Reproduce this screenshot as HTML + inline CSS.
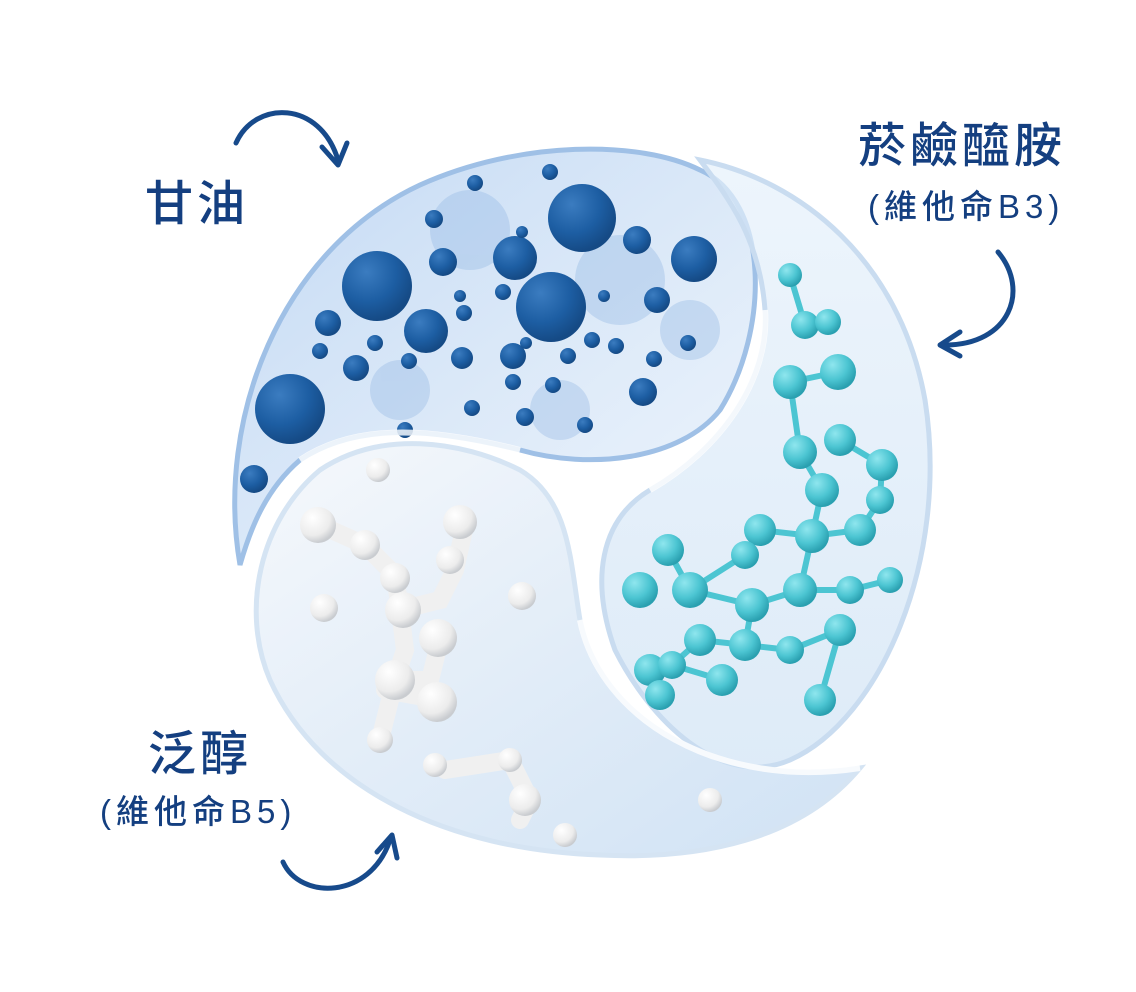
<!DOCTYPE html>
<html><head><meta charset="utf-8"><style>
html,body{margin:0;padding:0;background:#fff;}
svg{display:block}
text{font-family:"Liberation Sans","Noto Sans CJK TC",sans-serif;fill:#143f80;font-weight:500;}
</style></head><body>
<svg width="1136" height="992" viewBox="0 0 1136 992" xmlns="http://www.w3.org/2000/svg">
<defs>
<radialGradient id="bl" cx="0.35" cy="0.3" r="0.7"><stop offset="0" stop-color="#3b7cc0"/><stop offset="0.6" stop-color="#1d5ea3"/><stop offset="1" stop-color="#154a85"/></radialGradient>
<radialGradient id="cy" cx="0.35" cy="0.3" r="0.7"><stop offset="0" stop-color="#8fe6ee"/><stop offset="0.6" stop-color="#4cc5d2"/><stop offset="1" stop-color="#2aa0b0"/></radialGradient>
<radialGradient id="wh" cx="0.35" cy="0.3" r="0.7"><stop offset="0" stop-color="#ffffff"/><stop offset="0.7" stop-color="#ececec"/><stop offset="1" stop-color="#c9ccd0"/></radialGradient>
<linearGradient id="lb" x1="0" y1="0" x2="1" y2="1"><stop offset="0" stop-color="#a9c9ef" stop-opacity="0.7"/><stop offset="1" stop-color="#dbe9f8" stop-opacity="0.5"/></linearGradient>
<linearGradient id="lc" x1="0" y1="0" x2="0" y2="1"><stop offset="0" stop-color="#e6f1fb" stop-opacity="0.7"/><stop offset="1" stop-color="#c8def3" stop-opacity="0.6"/></linearGradient>
<linearGradient id="lw" x1="0" y1="0" x2="1" y2="1"><stop offset="0" stop-color="#f4f7fb" stop-opacity="0.8"/><stop offset="1" stop-color="#bcd6f0" stop-opacity="0.7"/></linearGradient>
</defs>
<path d="M240,565 C215,420 280,250 420,185 C520,140 640,140 700,170 C770,200 770,330 720,410 C680,460 590,470 520,450 C440,430 360,420 300,460 C265,490 250,530 240,565 Z" fill="url(#lb)" stroke="#9fc0e6" stroke-width="5"/>
<g fill="#8fb5e3" opacity="0.35">
<circle cx="470" cy="230" r="40"/><circle cx="620" cy="280" r="45"/><circle cx="400" cy="390" r="30"/><circle cx="560" cy="410" r="30"/><circle cx="690" cy="330" r="30"/>
</g>
<path d="M700,160 C800,180 900,260 925,400 C950,560 880,720 790,760 C720,790 650,720 615,650 C590,580 600,520 650,490 C720,450 770,380 765,310 C760,240 730,200 700,160 Z" fill="url(#lc)" stroke="#c9dcf0" stroke-width="5"/>
<path d="M860,768 C800,840 700,860 600,855 C450,850 320,790 270,680 C240,610 260,520 320,470 C380,430 460,440 520,470 C570,500 570,560 580,620 C600,720 720,790 860,768 Z" fill="url(#lw)" stroke="#d5e4f3" stroke-width="5"/>
<g fill="url(#bl)">
<circle cx="582" cy="218" r="34"/><circle cx="377" cy="286" r="35"/><circle cx="551" cy="307" r="35"/>
<circle cx="290" cy="409" r="35"/><circle cx="515" cy="258" r="22"/><circle cx="694" cy="259" r="23"/>
<circle cx="426" cy="331" r="22"/><circle cx="637" cy="240" r="14"/><circle cx="443" cy="262" r="14"/>
<circle cx="328" cy="323" r="13"/><circle cx="356" cy="368" r="13"/><circle cx="513" cy="356" r="13"/>
<circle cx="462" cy="358" r="11"/><circle cx="657" cy="300" r="13"/><circle cx="643" cy="392" r="14"/>
<circle cx="616" cy="346" r="8"/><circle cx="654" cy="359" r="8"/><circle cx="688" cy="343" r="8"/>
<circle cx="592" cy="340" r="8"/><circle cx="568" cy="356" r="8"/><circle cx="513" cy="382" r="8"/>
<circle cx="553" cy="385" r="8"/><circle cx="464" cy="313" r="8"/><circle cx="503" cy="292" r="8"/>
<circle cx="550" cy="172" r="8"/><circle cx="475" cy="183" r="8"/><circle cx="434" cy="219" r="9"/>
<circle cx="375" cy="343" r="8"/><circle cx="409" cy="361" r="8"/><circle cx="405" cy="430" r="8"/>
<circle cx="320" cy="351" r="8"/><circle cx="460" cy="296" r="6"/><circle cx="585" cy="425" r="8"/>
<circle cx="526" cy="343" r="6"/><circle cx="525" cy="417" r="9"/><circle cx="254" cy="479" r="14"/>
<circle cx="522" cy="232" r="6"/><circle cx="472" cy="408" r="8"/><circle cx="604" cy="296" r="6"/>
</g>
<g stroke="#4cc5d2" stroke-width="6" fill="none">
<path d="M790,275 L805,325 L828,322 M790,382 L838,372 M790,382 L800,452 M840,440 L882,465 L880,500 M800,452 L822,490 L812,536 L760,530 L745,555 L690,590 M812,536 L860,530 L880,500 M812,536 L800,590 L752,605 L690,590 L668,550 M800,590 L850,590 L890,580 M752,605 L745,645 L700,640 L672,665 L650,670 M745,645 L790,650 L840,630 L820,700 M672,665 L722,680"/>
</g>
<g fill="url(#cy)">
<circle cx="790" cy="275" r="12"/><circle cx="805" cy="325" r="14"/><circle cx="828" cy="322" r="13"/>
<circle cx="790" cy="382" r="17"/><circle cx="838" cy="372" r="18"/><circle cx="800" cy="452" r="17"/>
<circle cx="840" cy="440" r="16"/><circle cx="882" cy="465" r="16"/><circle cx="880" cy="500" r="14"/>
<circle cx="822" cy="490" r="17"/><circle cx="812" cy="536" r="17"/><circle cx="860" cy="530" r="16"/>
<circle cx="760" cy="530" r="16"/><circle cx="745" cy="555" r="14"/><circle cx="690" cy="590" r="18"/>
<circle cx="668" cy="550" r="16"/><circle cx="800" cy="590" r="17"/><circle cx="850" cy="590" r="14"/>
<circle cx="890" cy="580" r="13"/><circle cx="752" cy="605" r="17"/><circle cx="745" cy="645" r="16"/>
<circle cx="700" cy="640" r="16"/><circle cx="650" cy="670" r="16"/><circle cx="672" cy="665" r="14"/>
<circle cx="790" cy="650" r="14"/><circle cx="840" cy="630" r="16"/><circle cx="820" cy="700" r="16"/>
<circle cx="722" cy="680" r="16"/><circle cx="640" cy="590" r="18"/><circle cx="660" cy="695" r="15"/>
</g>
<g stroke="#f0f0f0" stroke-width="18" fill="none" stroke-linecap="round">
<path d="M320,525 L365,545 L395,575 L400,610 L440,600 L455,570 L465,525 M400,610 L405,650 L395,680 L380,740 M440,640 L430,680 L395,680 M385,690 L440,700 M445,770 L510,760 L530,800 L520,820"/>
</g>
<g fill="url(#wh)">
<circle cx="378" cy="470" r="12"/><circle cx="318" cy="525" r="18"/><circle cx="365" cy="545" r="15"/>
<circle cx="395" cy="578" r="15"/><circle cx="403" cy="610" r="18"/><circle cx="460" cy="522" r="17"/>
<circle cx="450" cy="560" r="14"/><circle cx="438" cy="638" r="19"/><circle cx="522" cy="596" r="14"/>
<circle cx="324" cy="608" r="14"/><circle cx="395" cy="680" r="20"/><circle cx="437" cy="702" r="20"/>
<circle cx="380" cy="740" r="13"/><circle cx="435" cy="765" r="12"/><circle cx="510" cy="760" r="12"/>
<circle cx="525" cy="800" r="16"/><circle cx="710" cy="800" r="12"/><circle cx="565" cy="835" r="12"/>
</g>
<path d="M300,460 C360,420 440,430 520,450" stroke="#fff" stroke-width="6" fill="none" opacity="0.8"/>
<path d="M650,490 C720,450 770,380 765,310" stroke="#fff" stroke-width="6" fill="none" opacity="0.8"/>
<path d="M580,620 C600,720 720,790 860,768" stroke="#fff" stroke-width="6" fill="none" opacity="0.8"/>
<text x="145" y="220" font-size="48" letter-spacing="4">甘油</text>
<text x="858" y="162" font-size="48" letter-spacing="4">菸鹼醯胺</text>
<text x="868" y="218" font-size="33" letter-spacing="5">(維他命B3)</text>
<text x="148" y="770" font-size="48" letter-spacing="4">泛醇</text>
<text x="100" y="823" font-size="33" letter-spacing="5">(維他命B5)</text>
<g stroke="#174a8b" stroke-width="5" fill="none" stroke-linecap="round" stroke-linejoin="round">
<path d="M236,143 C255,100 320,100 338,160"/><path d="M322,147 L338,165 L347,143"/>
<path d="M998,252 C1030,290 1010,345 945,345"/><path d="M960,332 L940,345 L960,356"/>
<path d="M283,862 C300,900 370,900 390,840"/><path d="M377,852 L392,835 L397,858"/>
</g>
</svg>
</body></html>
